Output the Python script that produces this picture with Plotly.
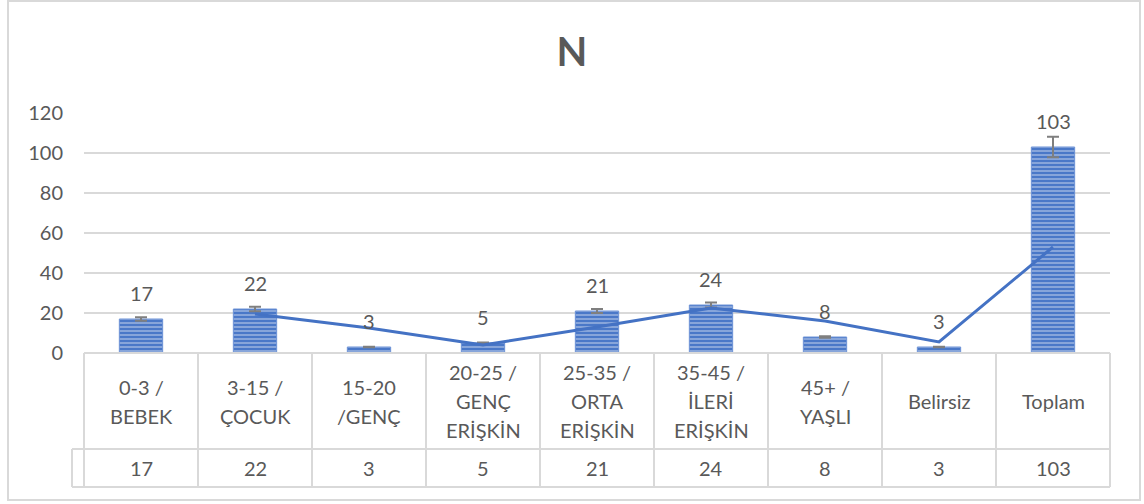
import plotly.graph_objects as go

# Age groups (table header lines separated by "|")
categories = ["0-3 /|BEBEK", "3-15 /|ÇOCUK", "15-20|/GENÇ", "20-25 /|GENÇ|ERİŞKİN",
              "25-35 /|ORTA|ERİŞKİN", "35-45 /|İLERİ|ERİŞKİN", "45+ /|YAŞLI",
              "Belirsiz", "Toplam"]
counts = [17, 22, 3, 5, 21, 24, 8, 3, 103]
# two-period moving average trend, starting at the second group
trend_values = [19.5, 12.5, 4, 13, 22.5, 16, 5.5, 53]
y_ticks = [0, 20, 40, 60, 80, 100, 120]

W, H = 1144, 504
L, R, T, B = 84, 1110, 113, 353  # plot area in pixels

def px(x):
    return (x - L) / (R - L)

def py(y):
    return (B - y) / (B - T)

GRAY_TXT = "#595959"
GRID = "#d9d9d9"
BLUE = "#4472C4"
FONT = "Lato"

x_keys = [c.replace("|", " ") for c in categories]

fig = go.Figure()
fig.add_trace(go.Bar(
    x=x_keys, y=counts,
    marker=dict(color=BLUE, line=dict(color="#6d92d6", width=1),
                pattern=dict(shape="-", fgcolor="#e3eaf7", bgcolor="#4a78c8",
                             size=4, solidity=0.4)),
    error_y=dict(type="percent", value=5, color="#7f7f7f", thickness=2, width=6),
    hoverinfo="skip", showlegend=False,
))
fig.add_trace(go.Scatter(
    x=x_keys[1:], y=trend_values, mode="lines",
    line=dict(color=BLUE, width=3), hoverinfo="skip", showlegend=False,
))

annotations = []
# value labels above the bars
for k, v in zip(x_keys, counts):
    annotations.append(dict(x=k, y=v, xref="x", yref="y", text=str(v),
                            showarrow=False, xanchor="center", yanchor="middle",
                            yshift=26,
                            font=dict(family=FONT, size=20, color=GRAY_TXT)))

shapes = []
n = len(categories)
col_w = (R - L) / n
row1_bottom = 449
row2_bottom = 487
line_h = 29
for i, cat in enumerate(categories):
    cx = L + col_w * (i + 0.5)
    lines = cat.split("|")
    mid = (B + row1_bottom) / 2
    for j, ln in enumerate(lines):
        yy = mid + (j - (len(lines) - 1) / 2) * line_h
        annotations.append(dict(x=px(cx), y=py(yy), xref="paper", yref="paper",
                                text=ln, showarrow=False, xanchor="center",
                                yanchor="middle",
                                font=dict(family=FONT, size=20, color=GRAY_TXT)))
    annotations.append(dict(x=px(cx), y=py((row1_bottom + row2_bottom) / 2),
                            xref="paper", yref="paper", text=str(counts[i]),
                            showarrow=False, xanchor="center", yanchor="middle",
                            font=dict(family=FONT, size=20, color=GRAY_TXT)))

def seg(x0, y0, x1, y1, w=2):
    shapes.append(dict(type="line", xref="paper", yref="paper",
                       x0=px(x0), y0=py(y0), x1=px(x1), y1=py(y1),
                       line=dict(color=GRID, width=w), layer="above"))

# data table grid
for i in range(n + 1):
    seg(L + col_w * i, B, L + col_w * i, row2_bottom)
seg(L, B, R, B)
seg(72, row1_bottom, R, row1_bottom)
seg(72, row2_bottom, R, row2_bottom)
seg(72, row1_bottom, 72, row2_bottom)

# outer chart frame
shapes.append(dict(type="rect", xref="paper", yref="paper",
                   x0=px(8), y0=py(500), x1=px(1140), y1=py(1),
                   line=dict(color=GRID, width=2), fillcolor="rgba(0,0,0,0)",
                   layer="below"))

fig.update_layout(
    width=W, height=H,
    margin=dict(l=L, r=W - R, t=T, b=H - B),
    paper_bgcolor="white", plot_bgcolor="white",
    title=dict(text="<b>N</b>", x=0.5, xanchor="center", y=1 - 52 / H,
               yanchor="middle", yref="container",
               font=dict(family=FONT, size=40, color=GRAY_TXT)),
    bargap=0.62,
    xaxis=dict(showticklabels=False, showgrid=False, zeroline=False,
               showline=False, ticks=""),
    yaxis=dict(range=[0, 120], tickvals=y_ticks, showgrid=True, gridcolor=GRID,
               gridwidth=1.5, zeroline=False, showline=False,
               ticklabelstandoff=20,
               tickfont=dict(family=FONT, size=20, color=GRAY_TXT)),
    annotations=annotations,
    shapes=shapes,
    font=dict(family=FONT),
)
fig.update_traces(cliponaxis=False, selector=dict(type="bar"))

fig.write_html("out.html")
